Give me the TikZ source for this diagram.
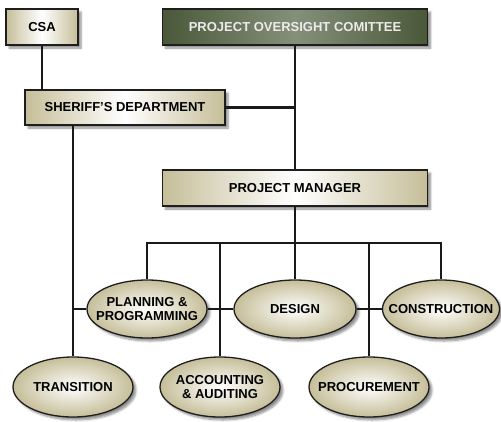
\documentclass[tikz,border=0pt]{standalone}
\usepackage{fontspec}
\setmainfont{Liberation Sans}
\usetikzlibrary{shapes.geometric,shadows.blur}
\definecolor{tan}{HTML}{C6BE99}
\definecolor{olive}{HTML}{4A5839}
\definecolor{olivelight}{HTML}{85907A}
\definecolor{edge}{HTML}{1E1E1E}
\tikzset{
  box/.style={draw=edge, line width=1.3pt, rectangle, minimum height=36pt, inner sep=0pt,
    left color=tan, right color=tan, middle color=white,
    blur shadow={shadow xshift=3pt, shadow yshift=-3pt, shadow opacity=45, shadow blur steps=6},
    font=\fontsize{13}{14}\selectfont\bfseries},
  topbox/.style={box, left color=olive, right color=olive, middle color=olivelight, text=white!92!black},
  unit/.style={draw=edge, line width=1.3pt, ellipse, minimum width=120pt, minimum height=58pt,
    inner xsep=-11pt, inner ysep=0pt,
    inner color=white, outer color=tan, align=center,
    blur shadow={shadow xshift=3pt, shadow yshift=-3pt, shadow opacity=45, shadow blur steps=6},
    font=\fontsize{13}{13.5}\selectfont\bfseries},
  link/.style={draw=black!90, line width=2.2pt}
}
\begin{document}
\begin{tikzpicture}[x=1pt, y=-1pt]
  \useasboundingbox (0,0) rectangle (501,421);
  \node[box, minimum width=72pt] (csa) at (42,27) {CSA};
  \node[topbox, minimum width=265pt] (oversight) at (295,27) {PROJECT OVERSIGHT COMITTEE};
  \node[box, minimum width=200pt, minimum height=35pt] (sheriff) at (125,107.5) {SHERIFF'S DEPARTMENT};
  \node[box, minimum width=265pt] (pm) at (295,188) {PROJECT MANAGER};
  \node[unit] (plan) at (147,309) {PLANNING \&\\PROGRAMMING};
  \node[unit, minimum width=122pt] (design) at (295,309) {DESIGN};
  \node[unit, minimum width=117pt] (constr) at (441,309) {CONSTRUCTION};
  \node[unit, minimum height=60pt] (trans) at (73,387) {TRANSITION};
  \node[unit, minimum height=60pt] (acct) at (220,387) {ACCOUNTING\\\& AUDITING};
  \node[unit, minimum height=60pt] (proc) at (369,387) {PROCUREMENT};
  \coordinate (bus) at (295,243);

  \draw[link] (csa.south) -- (csa.south |- sheriff.north);
  \draw[link] (oversight.south) -- (pm.north);
  \draw[link] (sheriff.east) -- (sheriff.east -| oversight.south);
  \draw[link] (sheriff.south -| trans.north) -- (trans.north);
  \draw[link] (pm.south) -- (bus);
  \draw[link] (plan.north) -- (plan.north |- bus) -- (constr.north |- bus) -- (constr.north);
  \draw[link] (design.north |- bus) -- (design.north);
  \draw[link] (acct.north |- bus) -- (acct.north);
  \draw[link] (proc.north |- bus) -- (proc.north);
  \draw[link] (trans.north |- plan.west) -- (plan.west);
  \draw[link] (plan.east) -- (design.west);
  \draw[link] (design.east) -- (constr.west);
\end{tikzpicture}
\end{document}
